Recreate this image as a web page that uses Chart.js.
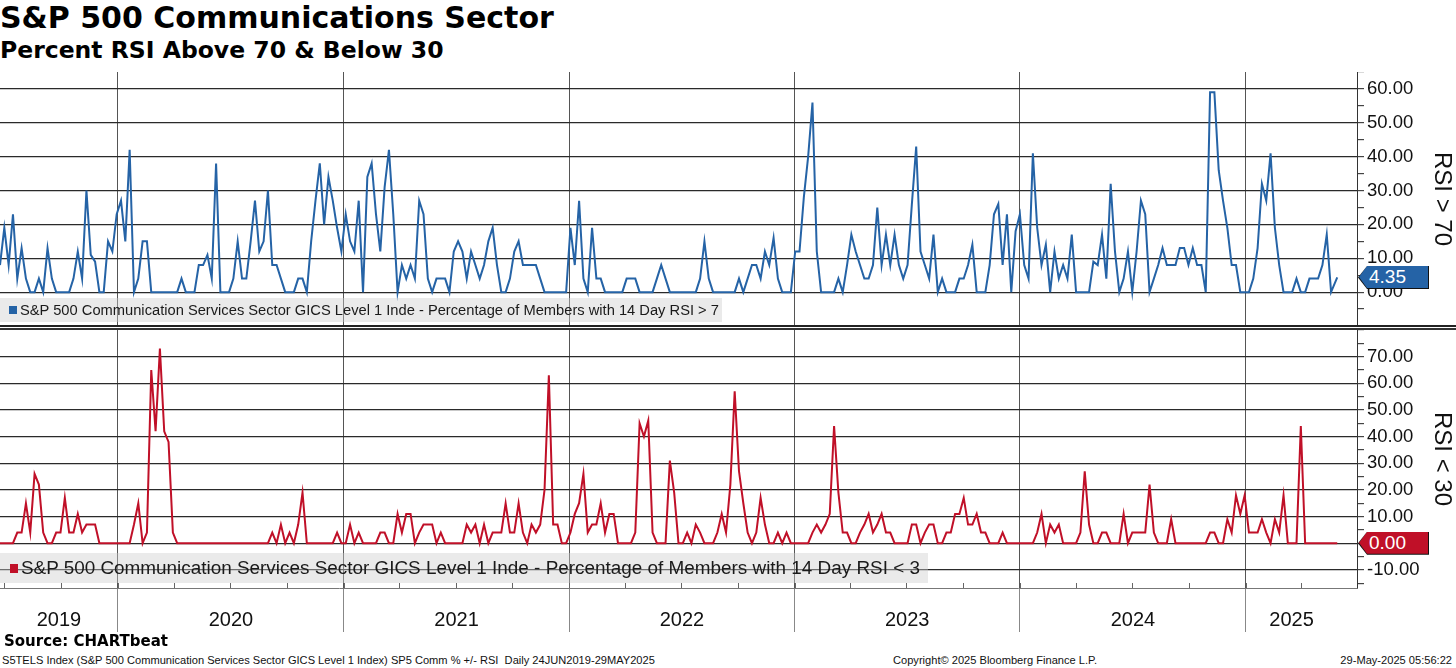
<!DOCTYPE html>
<html>
<head>
<meta charset="utf-8">
<script src="https://cdn.jsdelivr.net/npm/chart.js@4.4.1/dist/chart.umd.min.js"></script>
<style>
html,body{margin:0;padding:0;background:#fff;}
body{width:1456px;height:668px;overflow:hidden;position:relative;font-family:"Liberation Sans",Arial,sans-serif;color:#000;}
#title{position:absolute;left:0;top:3px;font:bold 30px/1 "DejaVu Sans",Verdana,sans-serif;white-space:nowrap;}
#subtitle{position:absolute;left:0;top:39px;font:bold 23.5px/1 "DejaVu Sans",Verdana,sans-serif;white-space:nowrap;}
#topWrap{position:absolute;left:0;top:72px;width:1456px;height:254px;}
#botWrap{position:absolute;left:0;top:330px;width:1456px;height:304px;}
.sep{position:absolute;left:0;top:325px;width:1456px;height:1px;border-top:2px solid #222;border-bottom:2px solid #333;}
.legend{position:absolute;left:0;background:rgba(205,205,205,0.42);white-space:nowrap;color:#1a1a1a;box-sizing:border-box;}
.legend .sq{display:inline-block;vertical-align:middle;margin-right:3px;position:relative;top:-1px;}
#legTop{top:298px;height:24px;width:722px;font-size:14.7px;line-height:24px;padding-left:9px;}
#legTop .sq{width:8px;height:8px;}
#legBot{top:553px;height:30px;width:928px;font-size:18.9px;line-height:30px;padding-left:10px;}
#legBot .sq{width:8px;height:9px;}
.tag{position:absolute;left:1358px;width:71px;height:23px;background:#111;clip-path:polygon(0 50%,9px 0,100% 0,100% 100%,9px 100%);}
.tag .in{position:absolute;left:1px;top:0;right:1px;bottom:1px;clip-path:polygon(0 50%,8px 0,100% 0,100% 100%,8px 100%);color:#fff;font-size:19px;line-height:22px;padding-left:10px;box-sizing:border-box;}
#source{position:absolute;left:4px;top:634px;font:bold 15px/1 "DejaVu Sans",Verdana,sans-serif;white-space:nowrap;}
.foot{position:absolute;top:655px;font-size:11.1px;line-height:1;white-space:pre;color:#111;}
</style>
</head>
<body>
<div id="title">S&amp;P 500 Communications Sector</div>
<div id="subtitle">Percent RSI Above 70 &amp; Below 30</div>
<div id="topWrap"><canvas id="topChart"></canvas></div>
<div class="sep"></div>
<div id="botWrap"><canvas id="botChart"></canvas></div>
<div class="legend" id="legTop"><span class="sq" id="sqTop"></span>S&amp;P 500 Communication Services Sector GICS Level 1 Inde - Percentage of Members with 14 Day RSI &gt; 7</div>
<div class="legend" id="legBot"><span class="sq" id="sqBot"></span>S&amp;P 500 Communication Services Sector GICS Level 1 Inde - Percentage of Members with 14 Day RSI &lt; 3</div>
<div class="tag" id="tagTop"><div class="in" id="tagTopIn"></div></div>
<div class="tag" id="tagBot"><div class="in" id="tagBotIn"></div></div>
<div id="source">Source: CHARTbeat</div>
<div class="foot" style="left:2px">S5TELS Index (S&amp;P 500 Communication Services Sector GICS Level 1 Index) SP5 Comm % +/- RSI  Daily 24JUN2019-29MAY2025</div>
<div class="foot" style="left:893px">Copyright© 2025 Bloomberg Finance L.P.</div>
<div class="foot" style="right:4px">29-May-2025 05:56:22</div>
<script>
// ---------- data ----------
const startDate = Date.UTC(2019, 5, 24);
const endDate   = Date.UTC(2025, 4, 29);
const axisEnd   = Date.UTC(2025, 5, 30);
const DAY = 864e5;

const yearLabels = ['2019', '2020', '2021', '2022', '2023', '2024', '2025'];
const yearStartYears = [2020, 2021, 2022, 2023, 2024, 2025];
const topTickLabels = [0, 10, 20, 30, 40, 50, 60];
const botTickLabels = [-10, 0, 10, 20, 30, 40, 50, 60, 70];

const topColor = '#2563a6';
const botColor = '#c01028';

// weekly readings, % of members with 14-day RSI > 70
const rsiAbove70 = [
  8,19,8,23,4,13,4,0,0,4,
  0,13,4,0,0,0,0,4,12,4,
  30,11,9,0,0,15,12,23,27,15,
  42,0,4,15,15,0,0,0,0,0,
  0,0,4,0,0,0,8,8,11,4,
  38,0,0,0,4,15,4,4,15,27,
  12,15,30,8,8,4,0,0,0,4,
  4,0,15,27,38,20,34,27,19,12,
  23,15,12,27,0,34,38,23,12,31,
  42,23,0,8,4,8,4,27,23,4,
  0,4,4,4,0,12,15,12,4,12,
  8,4,8,15,19,8,0,0,4,12,
  15,8,8,8,8,4,0,0,0,0,
  0,0,19,8,27,4,0,19,4,4,
  0,0,0,0,0,4,4,4,0,0,
  0,0,4,8,4,0,0,0,0,0,
  0,0,4,15,4,0,0,0,0,0,
  0,4,0,4,8,8,4,12,8,16,
  4,0,0,0,12,12,28,40,56,12,
  0,0,0,0,4,0,8,17,12,8,
  4,4,8,25,8,17,8,17,8,4,
  8,26,43,12,8,4,17,0,4,0,
  0,0,4,4,8,14,0,0,0,8,
  23,26,8,23,0,18,23,8,4,41,
  19,8,14,0,12,4,8,4,17,0,
  0,0,0,9,8,17,4,32,12,0,
  4,12,0,12,27,23,0,4,8,13,
  8,8,8,13,13,8,13,8,8,0,
  59,59,36,27,19,8,8,0,0,0,
  4,13,32,27,41,19,8,0,0,0,
  4,0,0,4,4,4,8,17,0,4.35
];

// weekly readings, % of members with 14-day RSI < 30
const rsiBelow30 = [
  0,0,0,0,4,4,15,4,26,22,
  4,0,0,4,4,17,4,4,11,4,
  7,7,7,0,0,0,0,0,0,0,
  0,7,15,0,4,65,42,73,42,38,
  4,0,0,0,0,0,0,0,0,0,
  0,0,0,0,0,0,0,0,0,0,
  0,0,0,4,0,7,0,4,0,7,
  19,0,0,0,0,0,0,0,4,0,
  0,7,0,4,0,0,0,0,4,4,
  0,0,11,4,11,11,0,4,7,7,
  7,0,4,0,0,0,0,0,7,4,
  7,0,7,0,4,4,4,15,4,4,
  15,4,0,7,4,7,20,63,7,7,
  0,0,4,11,15,26,4,7,7,15,
  4,11,11,0,0,0,0,4,45,40,
  46,4,0,0,0,31,19,0,0,4,
  0,7,4,0,0,0,4,11,4,22,
  57,27,15,4,0,4,17,7,0,0,
  4,0,4,0,0,0,0,0,4,7,
  4,7,11,44,19,4,4,0,0,4,
  7,11,4,7,11,4,4,0,0,0,
  0,7,7,0,4,7,7,0,0,4,
  4,11,11,17,7,7,11,4,4,0,
  0,0,4,0,0,0,0,0,0,0,
  4,11,0,7,4,7,0,0,0,0,
  4,27,7,0,0,4,4,0,0,0,
  11,0,4,4,4,4,22,4,0,0,
  0,9,0,0,0,0,0,0,0,0,
  4,4,0,0,9,4,18,11,18,4,
  4,4,9,4,0,9,4,18,0,0,
  0,44,0,0,0,0,0,0,0,0
];

// ---------- derived ----------
const weekDates = rsiAbove70.map((_, i) => i === rsiAbove70.length - 1 ? endDate : startDate + i * 7 * DAY);
const yearStarts = yearStartYears.map(y => Date.UTC(y, 0, 1));
const segEdges = [startDate, ...yearStarts, endDate];
const yearMids = yearLabels.map((_, i) => (segEdges[i] + segEdges[i + 1]) / 2);
const quarterMarks = [];
for (let y = 2019; y <= 2025; y++) for (const m of [0, 3, 6, 9]) quarterMarks.push(Date.UTC(y, m, 1));

Chart.defaults.font.family = '"Liberation Sans", Arial, sans-serif';
Chart.defaults.color = '#111';

function yAxis(lo, hi, labelSet, title) {
  return {
    type: 'linear', position: 'right', min: lo, max: hi,
    afterBuildTicks: s => {
      const t = [];
      for (let v = Math.ceil(lo / 5) * 5; v <= hi; v += 5) t.push({ value: v });
      s.ticks = t;
    },
    afterFit: s => { s.width = 99; s.paddingTop = 0; s.paddingBottom = 0; },
    ticks: {
      padding: 3, autoSkip: false,
      font: { size: 18.5 }, color: '#111',
      callback: v => labelSet.includes(v) ? v.toFixed(2) : ''
    },
    grid: {
      color: c => (c.tick && labelSet.includes(c.tick.value)) ? '#2a2a2a' : 'rgba(0,0,0,0)',
      lineWidth: 1.2, tickLength: 7, tickColor: '#444', drawTicks: true
    },
    border: { display: true, color: '#333', width: 1 },
    title: { display: true, text: title, font: { size: 24 }, color: '#111', padding: 0 }
  };
}

function lineDataset(values, color) {
  return {
    data: values.map((v, i) => ({ x: weekDates[i], y: v })),
    borderColor: color, borderWidth: 2, pointRadius: 0, tension: 0, fill: false
  };
}

const topChart = new Chart(document.getElementById('topChart'), {
  type: 'line',
  data: { datasets: [lineDataset(rsiAbove70, topColor)] },
  options: {
    responsive: true, maintainAspectRatio: false, animation: false,
    layout: { padding: 0 },
    plugins: { legend: { display: false }, tooltip: { enabled: false } },
    scales: {
      x: {
        type: 'linear', min: startDate, max: axisEnd,
        afterBuildTicks: s => { s.ticks = yearStarts.map(v => ({ value: v })); },
        afterFit: s => { s.height = 0; s.paddingLeft = 0; s.paddingRight = 0; },
        ticks: { display: false },
        grid: { color: '#555', lineWidth: 1, drawTicks: false },
        border: { display: false }
      },
      y: yAxis(-10, 65, topTickLabels, 'RSI > 70')
    }
  }
});

const quarterPlugin = {
  id: 'quarterTicks',
  afterDraw(chart) {
    const { ctx, chartArea, scales: { x } } = chart;
    ctx.save();
    ctx.strokeStyle = '#666';
    ctx.lineWidth = 1;
    for (const q of quarterMarks) {
      const px = Math.round(x.getPixelForValue(q)) + 0.5;
      if (px < chartArea.left || px > chartArea.right) continue;
      ctx.beginPath();
      ctx.moveTo(px, chartArea.bottom);
      ctx.lineTo(px, chartArea.bottom - 5);
      ctx.stroke();
    }
    ctx.restore();
  }
};

const botTicks = [];
yearMids.forEach((m, i) => { botTicks.push(m); if (i < yearStarts.length) botTicks.push(yearStarts[i]); });

const botChart = new Chart(document.getElementById('botChart'), {
  type: 'line',
  data: { datasets: [lineDataset(rsiBelow30, botColor)] },
  options: {
    responsive: true, maintainAspectRatio: false, animation: false,
    layout: { padding: 0 },
    plugins: { legend: { display: false }, tooltip: { enabled: false } },
    scales: {
      x: {
        type: 'linear', min: startDate, max: axisEnd,
        afterBuildTicks: s => { s.ticks = botTicks.map(v => ({ value: v })); },
        afterFit: s => { s.height = 46; s.paddingLeft = 0; s.paddingRight = 0; },
        ticks: {
          autoSkip: false, maxRotation: 0, padding: -24,
          font: { size: 20 }, color: '#111',
          callback: v => { const i = yearMids.indexOf(v); return i >= 0 ? yearLabels[i] : ''; }
        },
        grid: {
          color: c => (c.tick && yearStarts.includes(c.tick.value)) ? '#555' : 'rgba(0,0,0,0)',
          tickColor: c => (c.tick && yearStarts.includes(c.tick.value)) ? '#888' : 'rgba(0,0,0,0)',
          lineWidth: 1, tickLength: 44, drawTicks: true
        },
        border: { display: true, color: '#777', width: 1 }
      },
      y: yAxis(-16.8, 80, botTickLabels, 'RSI < 30')
    }
  },
  plugins: [quarterPlugin]
});

// legend squares and last-value tags
document.getElementById('sqTop').style.background = topColor;
document.getElementById('sqBot').style.background = botColor;
function placeTag(chart, wrapTop, values, tagId, color) {
  const last = values[values.length - 1];
  const y = chart.scales.y.getPixelForValue(last);
  const tag = document.getElementById(tagId);
  tag.style.top = (wrapTop + y - 11.5) + 'px';
  const inner = document.getElementById(tagId + 'In');
  inner.style.background = color;
  inner.textContent = last.toFixed(2);
}
placeTag(topChart, 72, rsiAbove70, 'tagTop', topColor);
placeTag(botChart, 330, rsiBelow30, 'tagBot', botColor);
</script>
</body>
</html>
